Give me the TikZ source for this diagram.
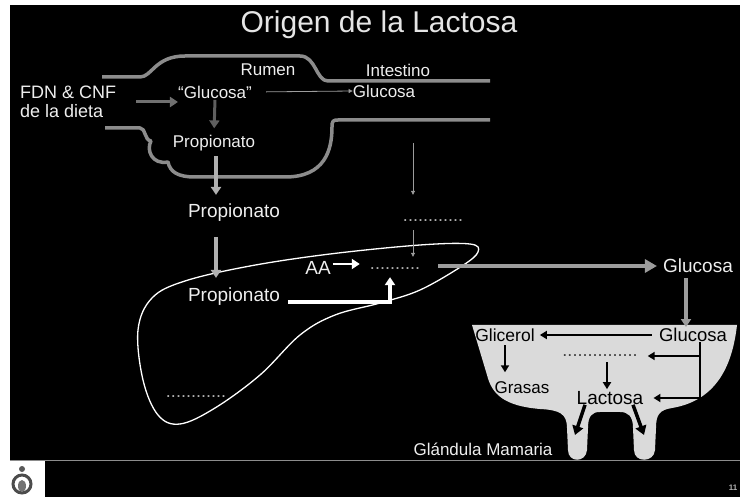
\documentclass[tikz,border=0pt]{standalone}
\usepackage{fontspec}
\setmainfont{Liberation Sans}
\usetikzlibrary{arrows.meta}

\definecolor{rumengray}{HTML}{8C8C8C}
\definecolor{darkflow}{HTML}{707070}
\definecolor{lightflow}{HTML}{B0B0B0}
\definecolor{midflow}{HTML}{9C9C9C}
\definecolor{glandfill}{HTML}{DADADA}
\definecolor{slidetext}{HTML}{EEEEEE}

\begin{document}
\begin{tikzpicture}[
  x=1pt, y=-1pt,
  every node/.style={font=\fontsize{18}{19}\selectfont, text=slidetext, inner sep=0pt},
  small/.style={font=\fontsize{17}{19}\selectfont},
  big/.style={font=\fontsize{19}{21}\selectfont},
  ink/.style={text=black},
  dots/.style={font=\fontsize{18}{19}\selectfont, text=lightflow},
  wall/.style={draw=rumengray, line width=3.5pt, line join=round},
  flow/.style={line width=3pt, -{Triangle[length=8pt, width=10pt]}},
  thinflow/.style={draw=midflow, line width=0.8pt, -{Triangle[length=4pt, width=4pt]}},
  blk/.style={draw=black, line width=2.2pt, -{Triangle[length=7pt, width=8pt]}},
]
\useasboundingbox (0, 0) rectangle (740, 497);
\fill[white] (0, 0) rectangle (740, 497);

% slide background
\fill[black] (10, 5) rectangle (740, 460);
\fill[black] (45, 461) rectangle (740, 497);

% Title
\node[font=\fontsize{30}{32}\selectfont, text=white!90!black] (title) at (379, 25) {Origen de la Lactosa};

% Rumen and gut walls
\draw[wall] (102, 77) -- (140, 77) .. controls (152, 77) and (155, 56) .. (185, 56)
  -- (300, 56) .. controls (316, 56) and (316, 81) .. (328, 81) -- (490, 81);
\draw[wall] (105, 128) -- (140, 128) .. controls (146, 128) and (144, 140) .. (151, 141)
  .. controls (146, 150) and (152, 165) .. (168, 162)
  .. controls (170, 172) and (178, 177) .. (195, 177) -- (285, 177)
  .. controls (325, 177) and (332, 150) .. (332, 127)
  .. controls (332, 121) and (333, 120) .. (338, 120) -- (490, 120);

% Liver outline
\draw[white, line width=1.3pt] plot[smooth cycle, tension=0.6] coordinates {
  (138, 330) (152, 298) (185, 281) (250, 266) (330, 254) (420, 245) (470, 244)
  (478, 252) (462, 266) (420, 290) (380, 303) (335, 315) (300, 335) (260, 375)
  (215, 408) (180, 424) (158, 415) (143, 380)};

% Mammary gland
\fill[glandfill] (472, 325) -- (737, 325) .. controls (733, 360) and (720, 400) .. (672, 408)
  .. controls (660, 410) and (656, 414) .. (656, 428) -- (655, 450)
  .. controls (654, 463) and (634, 463) .. (634, 450) -- (633, 428)
  .. controls (633, 416) and (628, 412) .. (620, 412) -- (600, 412)
  .. controls (592, 412) and (588, 416) .. (588, 428) -- (587, 450)
  .. controls (586, 463) and (568, 463) .. (568, 450) -- (567, 428)
  .. controls (567, 414) and (560, 410) .. (540, 409)
  .. controls (505, 406) and (492, 395) .. (487, 375) -- cycle;
\draw[rumengray, line width=1.5pt] (10, 460.5) -- (740, 460.5);

% Rumen and intestine labels
\node[align=left, anchor=west] (fdn) at (20, 102) {FDN \& CNF\\de la dieta};
\node[small] (glucr) at (215, 92) {“Glucosa”};
\node[small] (rumen) at (268, 70) {Rumen};
\node[small] (intest) at (398, 70) {Intestino};
\node[small] (glucI) at (384, 91) {Glucosa};
\node[small] (propR) at (214, 143) {Propionato};
\coordinate (gut) at (413, 143);

% Blood and liver
\node[big] (prop) at (234, 213) {Propionato};
\node[big] (propL) at (234, 297) {Propionato};
\node[big] (aa) at (318, 268) {AA};
\node[dots] (dotsU) at (433, 221) {............};
\node[dots] (dotsL) at (395, 269) {..........};
\node[dots] (dotsLiv) at (196, 397) {............};
\node[big] (glucB) at (698, 266) {Glucosa};

% Mammary gland labels
\node[ink, font=\fontsize{18.5}{20}\selectfont] (glucM) at (693, 335) {Glucosa};
\node[ink, font=\fontsize{17.5}{19}\selectfont] (glic) at (505, 335) {Glicerol};
\node[ink, small] (grasas) at (522, 388) {Grasas};
\node[ink, big] (lact) at (610, 398) {Lactosa};
\node[dots, text=black!75] (dotsM) at (600, 356) {...............};
\node[small] (gland) at (483, 449) {Glándula Mamaria};
\coordinate (teatL) at (575, 435);
\coordinate (teatR) at (644, 435);

% Arrows: rumen
\draw[flow, draw=darkflow, shorten <=20pt] (fdn.east) -- (fdn.east -| glucr.west);
\draw[thinflow, shorten <=14pt] (glucr.east) -- (glucI.west);
\draw[flow, draw=darkflow!85!black, shorten <=1.5pt, shorten >=6.5pt] (glucr.south) -- (propR.north);
\draw[flow, draw=lightflow, line width=4pt, shorten <=5pt, shorten >=9pt]
  ([xshift=2pt]propR.south) -- ([xshift=2pt]propR.south |- prop.north);
\draw[flow, draw=lightflow, line width=4pt, shorten <=15pt, shorten >=10pt]
  ([xshift=2pt]prop.south -| propR.south) -- ([xshift=2pt]propL.north -| propR.south);

% Arrows: liver
\draw[flow, draw=white, line width=4pt, shorten <=8pt, shorten >=7pt]
  ([yshift=-5pt]propL.east) -| ([xshift=-5pt]dotsL.south);
\draw[flow, draw=white, line width=2pt, shorten <=2pt, shorten >=10pt]
  ([yshift=4pt]aa.east) -- ([yshift=4pt]aa.east -| dotsL.west);
\draw[thinflow, shorten >=25pt] (gut) -- (gut |- dotsU.north);
\draw[thinflow, shorten <=8pt, shorten >=11pt] (dotsU.south -| gut) -- (dotsL.north -| gut);
\draw[flow, draw=midflow, line width=4.5pt, -{Triangle[length=12pt, width=13pt]}, shorten <=18pt, shorten >=6pt]
  (dotsL.east |- glucB.west) -- (glucB.west);
\draw[flow, draw=midflow, line width=4pt, shorten <=5pt, shorten >=1pt]
  ([xshift=-12pt]glucB.south) -- ([xshift=-12pt]glucB.south |- glucM.north);

% Arrows: mammary gland
\draw[blk, shorten <=7pt, shorten >=5pt] (glucM.west) -- (glic.east);
\draw[blk, shorten <=3.5pt, shorten >=9.5pt] (glic.south) -- (glic.south |- grasas.north);
\draw[blk, shorten >=10pt] ([xshift=7pt]glucM.south) |- (dotsM.east);
\draw[blk, shorten >=10pt] ([xshift=7pt]glucM.south) |- (lact.east);
\draw[blk, shorten <=5pt, shorten >=2pt] ([xshift=-3pt]dotsM.south -| lact.north) -- ([xshift=-3pt]lact.north);
\draw[blk, line width=3.5pt, -{Triangle[length=9pt, width=11pt]}] ([xshift=-25pt]lact.south) -- (teatL);
\draw[blk, line width=3.5pt, -{Triangle[length=9pt, width=11pt]}] ([xshift=23pt]lact.south) -- (teatR);

% Footer: logo and page number
\draw[black!70, line width=3pt] (22, 484) circle (9);
\fill[black!55] (22, 486) ellipse (4 and 6);
\fill[black!65] (22, 469) circle (3);
\node[font=\bfseries\fontsize{8}{9}\selectfont, text=gray!60] (page) at (733, 488) {11};
\end{tikzpicture}
\end{document}
